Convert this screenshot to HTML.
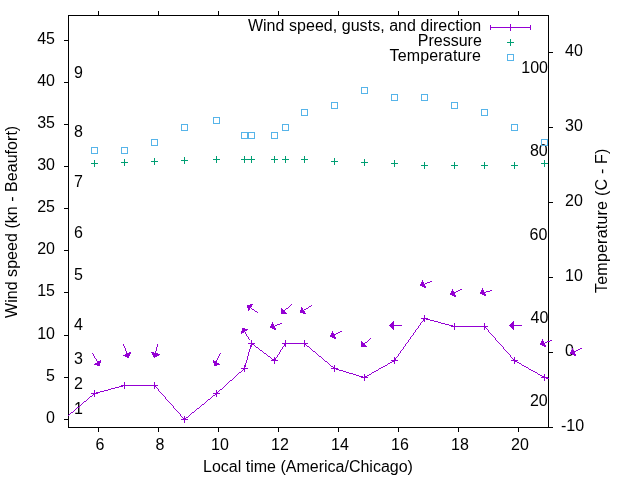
<!DOCTYPE html><html><head><meta charset="utf-8"><title>Wind speed, gusts, and direction</title>
<style>html,body{margin:0;padding:0;background:#fff;}svg{display:block;}text{font-family:"Liberation Sans",sans-serif;font-size:16px;fill:#000;}</style></head><body>
<svg width="640" height="480" viewBox="0 0 640 480">
<rect width="640" height="480" fill="#fff"/>
<g stroke="#000" stroke-width="1" fill="none" shape-rendering="crispEdges">
<rect x="68.5" y="15.5" width="480" height="412"/>
<line x1="64" y1="419.5" x2="68" y2="419.5"/>
<line x1="64" y1="377.5" x2="68" y2="377.5"/>
<line x1="64" y1="335.5" x2="68" y2="335.5"/>
<line x1="64" y1="292.5" x2="68" y2="292.5"/>
<line x1="64" y1="250.5" x2="68" y2="250.5"/>
<line x1="64" y1="208.5" x2="68" y2="208.5"/>
<line x1="64" y1="166.5" x2="68" y2="166.5"/>
<line x1="64" y1="124.5" x2="68" y2="124.5"/>
<line x1="64" y1="82.5" x2="68" y2="82.5"/>
<line x1="64" y1="40.5" x2="68" y2="40.5"/>
<line x1="549" y1="427.5" x2="553" y2="427.5"/>
<line x1="549" y1="352.5" x2="553" y2="352.5"/>
<line x1="549" y1="277.5" x2="553" y2="277.5"/>
<line x1="549" y1="202.5" x2="553" y2="202.5"/>
<line x1="549" y1="127.5" x2="553" y2="127.5"/>
<line x1="549" y1="52.5" x2="553" y2="52.5"/>
<line x1="98.5" y1="428" x2="98.5" y2="432"/>
<line x1="98.5" y1="11" x2="98.5" y2="15"/>
<line x1="158.5" y1="428" x2="158.5" y2="432"/>
<line x1="158.5" y1="11" x2="158.5" y2="15"/>
<line x1="218.5" y1="428" x2="218.5" y2="432"/>
<line x1="218.5" y1="11" x2="218.5" y2="15"/>
<line x1="278.5" y1="428" x2="278.5" y2="432"/>
<line x1="278.5" y1="11" x2="278.5" y2="15"/>
<line x1="338.5" y1="428" x2="338.5" y2="432"/>
<line x1="338.5" y1="11" x2="338.5" y2="15"/>
<line x1="398.5" y1="428" x2="398.5" y2="432"/>
<line x1="398.5" y1="11" x2="398.5" y2="15"/>
<line x1="458.5" y1="428" x2="458.5" y2="432"/>
<line x1="458.5" y1="11" x2="458.5" y2="15"/>
<line x1="518.5" y1="428" x2="518.5" y2="432"/>
<line x1="518.5" y1="11" x2="518.5" y2="15"/>
</g>
<text x="55" y="423" text-anchor="end">0</text>
<text x="55" y="381" text-anchor="end">5</text>
<text x="55" y="339" text-anchor="end">10</text>
<text x="55" y="296" text-anchor="end">15</text>
<text x="55" y="254" text-anchor="end">20</text>
<text x="55" y="212" text-anchor="end">25</text>
<text x="55" y="170" text-anchor="end">30</text>
<text x="55" y="128" text-anchor="end">35</text>
<text x="55" y="86" text-anchor="end">40</text>
<text x="55" y="44" text-anchor="end">45</text>
<text x="561" y="431" text-anchor="start">-10</text>
<text x="565" y="356" text-anchor="start">0</text>
<text x="565" y="281" text-anchor="start">10</text>
<text x="565" y="206" text-anchor="start">20</text>
<text x="565" y="131" text-anchor="start">30</text>
<text x="565" y="56" text-anchor="start">40</text>
<text x="100.0" y="450" text-anchor="middle">6</text>
<text x="160.0" y="450" text-anchor="middle">8</text>
<text x="220.0" y="450" text-anchor="middle">10</text>
<text x="280.0" y="450" text-anchor="middle">12</text>
<text x="340.0" y="450" text-anchor="middle">14</text>
<text x="400.0" y="450" text-anchor="middle">16</text>
<text x="460.0" y="450" text-anchor="middle">18</text>
<text x="520.0" y="450" text-anchor="middle">20</text>
<text x="74" y="414">1</text>
<text x="74" y="389">2</text>
<text x="74" y="364">3</text>
<text x="74" y="330">4</text>
<text x="74" y="280">5</text>
<text x="74" y="238">6</text>
<text x="74" y="187">7</text>
<text x="74" y="137">8</text>
<text x="74" y="78">9</text>
<text x="547.7" y="406" text-anchor="end">20</text>
<text x="548.4" y="323" text-anchor="end">40</text>
<text x="547.3" y="240" text-anchor="end">60</text>
<text x="547.7" y="156" text-anchor="end">80</text>
<text x="548" y="73" text-anchor="end">100</text>
<text x="308" y="472" text-anchor="middle">Local time (America/Chicago)</text>
<text transform="translate(17,318) rotate(-90)" style="letter-spacing:0.04px">Wind speed (kn - Beaufort)</text>
<text transform="translate(607,293) rotate(-90)" style="letter-spacing:0.22px">Temperature (C - F)</text>
<text x="481.3" y="31" text-anchor="end" style="letter-spacing:0.04px">Wind speed, gusts, and direction</text>
<text x="481.8" y="46" text-anchor="end">Pressure</text>
<text x="481.2" y="61" text-anchor="end" style="letter-spacing:0.17px">Temperature</text>
<g fill="none" stroke-width="1" shape-rendering="crispEdges">
<path d="M490 27.5H531M490.5 25V30M530.5 25V30" stroke="#9400D3"/>
<path d="M507 27.5H514M510.5 24V31" stroke="#9400D3"/>
<path d="M507 42.5H514M510.5 39V46" stroke="#009E73"/>
<rect x="507.5" y="54.5" width="6" height="6" stroke="#56B4E9"/>
<clipPath id="c"><rect x="68" y="15" width="481" height="413"/></clipPath>
<path d="M424 318.5h2M423 319.5h1M426 319.5h4M423 320.5h1M430 320.5h4M422 321.5h1M434 321.5h4M421 322.5h1M438 322.5h3M420 323.5h1M441 323.5h4M420 324.5h1M445 324.5h4M419 325.5h1M449 325.5h4M418 326.5h1M453 326.5h32M418 327.5h1M485 327.5h1M417 328.5h1M486 328.5h1M416 329.5h1M487 329.5h1M415 330.5h1M488 330.5h1M415 331.5h1M488 331.5h1M414 332.5h1M489 332.5h1M413 333.5h1M490 333.5h1M413 334.5h1M491 334.5h1M412 335.5h1M492 335.5h1M411 336.5h1M493 336.5h1M410 337.5h1M494 337.5h1M410 338.5h1M495 338.5h1M409 339.5h1M495 339.5h1M408 340.5h1M496 340.5h1M408 341.5h1M497 341.5h1M407 342.5h1M498 342.5h1M251 343.5h1M285 343.5h20M406 343.5h1M499 343.5h1M251 344.5h3M284 344.5h1M305 344.5h1M405 344.5h1M500 344.5h1M250 345.5h1M254 345.5h1M284 345.5h1M306 345.5h1M405 345.5h1M501 345.5h1M250 346.5h1M255 346.5h1M283 346.5h1M307 346.5h2M404 346.5h1M502 346.5h1M250 347.5h1M256 347.5h2M282 347.5h1M309 347.5h1M403 347.5h1M503 347.5h1M250 348.5h1M258 348.5h1M282 348.5h1M310 348.5h1M403 348.5h1M503 348.5h1M249 349.5h1M259 349.5h1M281 349.5h1M311 349.5h1M402 349.5h1M504 349.5h1M249 350.5h1M260 350.5h2M280 350.5h1M312 350.5h1M401 350.5h1M505 350.5h1M249 351.5h1M262 351.5h1M280 351.5h1M313 351.5h2M400 351.5h1M506 351.5h1M248 352.5h1M263 352.5h1M279 352.5h1M315 352.5h1M400 352.5h1M507 352.5h1M248 353.5h1M264 353.5h2M279 353.5h1M316 353.5h1M399 353.5h1M508 353.5h1M248 354.5h1M266 354.5h1M278 354.5h1M317 354.5h1M398 354.5h1M509 354.5h1M248 355.5h1M267 355.5h1M277 355.5h1M318 355.5h1M398 355.5h1M510 355.5h1M247 356.5h1M268 356.5h2M277 356.5h1M319 356.5h2M397 356.5h1M510 356.5h1M247 357.5h1M270 357.5h1M276 357.5h1M321 357.5h1M396 357.5h1M511 357.5h1M247 358.5h1M271 358.5h1M275 358.5h1M322 358.5h1M395 358.5h1M512 358.5h1M247 359.5h1M272 359.5h2M275 359.5h1M323 359.5h1M395 359.5h1M513 359.5h1M246 360.5h1M274 360.5h1M324 360.5h1M394 360.5h1M514 360.5h1M246 361.5h1M325 361.5h2M392 361.5h2M515 361.5h2M246 362.5h1M327 362.5h1M390 362.5h2M517 362.5h2M245 363.5h1M328 363.5h1M388 363.5h2M519 363.5h2M245 364.5h1M329 364.5h1M387 364.5h1M521 364.5h1M245 365.5h1M330 365.5h1M385 365.5h2M522 365.5h2M245 366.5h1M331 366.5h2M383 366.5h2M524 366.5h2M244 367.5h1M333 367.5h1M381 367.5h2M526 367.5h2M244 368.5h1M334 368.5h2M379 368.5h2M528 368.5h1M243 369.5h1M336 369.5h3M378 369.5h1M529 369.5h2M242 370.5h1M339 370.5h4M376 370.5h2M531 370.5h2M241 371.5h1M343 371.5h3M374 371.5h2M533 371.5h2M239 372.5h2M346 372.5h3M372 372.5h2M535 372.5h2M238 373.5h1M349 373.5h4M371 373.5h1M537 373.5h1M237 374.5h1M353 374.5h3M369 374.5h2M538 374.5h2M236 375.5h1M356 375.5h3M367 375.5h2M540 375.5h2M235 376.5h1M359 376.5h4M365 376.5h2M542 376.5h2M234 377.5h1M363 377.5h2M544 377.5h2M233 378.5h1M546 378.5h3M232 379.5h1M230 380.5h2M229 381.5h1M228 382.5h1M227 383.5h1M226 384.5h1M123 385.5h32M225 385.5h1M119 386.5h4M155 386.5h1M224 386.5h1M115 387.5h4M156 387.5h1M223 387.5h1M111 388.5h4M157 388.5h1M222 388.5h1M108 389.5h3M158 389.5h1M220 389.5h2M104 390.5h4M158 390.5h1M219 390.5h1M100 391.5h4M159 391.5h1M218 391.5h1M96 392.5h4M160 392.5h1M217 392.5h1M94 393.5h2M161 393.5h1M216 393.5h1M93 394.5h1M162 394.5h1M215 394.5h1M92 395.5h1M163 395.5h1M213 395.5h2M90 396.5h2M164 396.5h1M212 396.5h1M89 397.5h1M165 397.5h1M211 397.5h1M88 398.5h1M165 398.5h1M210 398.5h1M87 399.5h1M166 399.5h1M208 399.5h2M86 400.5h1M167 400.5h1M207 400.5h1M84 401.5h2M168 401.5h1M206 401.5h1M83 402.5h1M169 402.5h1M205 402.5h1M82 403.5h1M170 403.5h1M204 403.5h1M81 404.5h1M171 404.5h1M202 404.5h2M80 405.5h1M172 405.5h1M201 405.5h1M79 406.5h1M173 406.5h1M200 406.5h1M77 407.5h2M173 407.5h1M199 407.5h1M76 408.5h1M174 408.5h1M197 408.5h2M75 409.5h1M175 409.5h1M196 409.5h1M74 410.5h1M176 410.5h1M195 410.5h1M73 411.5h1M177 411.5h1M194 411.5h1M71 412.5h2M178 412.5h1M192 412.5h2M70 413.5h1M179 413.5h1M191 413.5h1M69 414.5h1M180 414.5h1M190 414.5h1M68 415.5h1M180 415.5h1M189 415.5h1M181 416.5h1M188 416.5h1M182 417.5h1M186 417.5h2M183 418.5h1M185 418.5h1M184 419.5h1" stroke="#9400D3" stroke-width="1" fill="none" shape-rendering="crispEdges"/>
<path d="M91 393.5H98M94.5 390V397" stroke="#9400D3"/>
<path d="M121 385.5H128M124.5 382V389" stroke="#9400D3"/>
<path d="M151 385.5H158M154.5 382V389" stroke="#9400D3"/>
<path d="M181 419.5H188M184.5 416V423" stroke="#9400D3"/>
<path d="M213 393.5H220M216.5 390V397" stroke="#9400D3"/>
<path d="M241 368.5H248M244.5 365V372" stroke="#9400D3"/>
<path d="M248 343.5H255M251.5 340V347" stroke="#9400D3"/>
<path d="M271 360.5H278M274.5 357V364" stroke="#9400D3"/>
<path d="M282 343.5H289M285.5 340V347" stroke="#9400D3"/>
<path d="M301 343.5H308M304.5 340V347" stroke="#9400D3"/>
<path d="M331 368.5H338M334.5 365V372" stroke="#9400D3"/>
<path d="M361 377.5H368M364.5 374V381" stroke="#9400D3"/>
<path d="M391 360.5H398M394.5 357V364" stroke="#9400D3"/>
<path d="M421 318.5H428M424.5 315V322" stroke="#9400D3"/>
<path d="M451 326.5H458M454.5 323V330" stroke="#9400D3"/>
<path d="M481 326.5H488M484.5 323V330" stroke="#9400D3"/>
<path d="M511 360.5H518M514.5 357V364" stroke="#9400D3"/>
<path d="M541 377.5H548M544.5 374V381" stroke="#9400D3"/>
<path d="M91 163.5H98M94.5 160V167" stroke="#009E73"/>
<path d="M121 162.5H128M124.5 159V166" stroke="#009E73"/>
<path d="M151 161.5H158M154.5 158V165" stroke="#009E73"/>
<path d="M181 160.5H188M184.5 157V164" stroke="#009E73"/>
<path d="M213 159.5H220M216.5 156V163" stroke="#009E73"/>
<path d="M241 159.5H248M244.5 156V163" stroke="#009E73"/>
<path d="M248 159.5H255M251.5 156V163" stroke="#009E73"/>
<path d="M271 159.5H278M274.5 156V163" stroke="#009E73"/>
<path d="M282 159.5H289M285.5 156V163" stroke="#009E73"/>
<path d="M301 159.5H308M304.5 156V163" stroke="#009E73"/>
<path d="M331 161.5H338M334.5 158V165" stroke="#009E73"/>
<path d="M361 162.5H368M364.5 159V166" stroke="#009E73"/>
<path d="M391 163.5H398M394.5 160V167" stroke="#009E73"/>
<path d="M421 165.5H428M424.5 162V169" stroke="#009E73"/>
<path d="M451 165.5H458M454.5 162V169" stroke="#009E73"/>
<path d="M481 165.5H488M484.5 162V169" stroke="#009E73"/>
<path d="M511 165.5H518M514.5 162V169" stroke="#009E73"/>
<path d="M541 163.5H548M544.5 160V167" stroke="#009E73"/>
<rect x="91.5" y="147.5" width="6" height="6" stroke="#56B4E9"/>
<rect x="121.5" y="147.5" width="6" height="6" stroke="#56B4E9"/>
<rect x="151.5" y="139.5" width="6" height="6" stroke="#56B4E9"/>
<rect x="181.5" y="124.5" width="6" height="6" stroke="#56B4E9"/>
<rect x="213.5" y="117.5" width="6" height="6" stroke="#56B4E9"/>
<rect x="241.5" y="132.5" width="6" height="6" stroke="#56B4E9"/>
<rect x="248.5" y="132.5" width="6" height="6" stroke="#56B4E9"/>
<rect x="271.5" y="132.5" width="6" height="6" stroke="#56B4E9"/>
<rect x="282.5" y="124.5" width="6" height="6" stroke="#56B4E9"/>
<rect x="301.5" y="109.5" width="6" height="6" stroke="#56B4E9"/>
<rect x="331.5" y="102.5" width="6" height="6" stroke="#56B4E9"/>
<rect x="361.5" y="87.5" width="6" height="6" stroke="#56B4E9"/>
<rect x="391.5" y="94.5" width="6" height="6" stroke="#56B4E9"/>
<rect x="421.5" y="94.5" width="6" height="6" stroke="#56B4E9"/>
<rect x="451.5" y="102.5" width="6" height="6" stroke="#56B4E9"/>
<rect x="481.5" y="109.5" width="6" height="6" stroke="#56B4E9"/>
<rect x="511.5" y="124.5" width="6" height="6" stroke="#56B4E9"/>
<rect x="541.5" y="139.5" width="6" height="6" stroke="#56B4E9"/>
</g>
<g stroke="#9400D3" fill="#9400D3" stroke-width="1" stroke-linejoin="round" stroke-linecap="square" shape-rendering="crispEdges">
<polygon points="99.5,365.5 100.5,360.5 94.5,364.5"/>
<polygon points="128.5,357.5 130.5,352.5 123.5,355.5"/>
<polygon points="154.5,357.5 159.5,354.5 151.5,352.5"/>
<polygon points="214.5,365.5 219.5,364.5 213.5,360.5"/>
<polygon points="242.5,328.5 241.5,333.5 247.5,329.5"/>
<polygon points="247.5,305.5 248.5,310.5 252.5,304.5"/>
<polygon points="270.5,327.5 275.5,329.5 272.5,322.5"/>
<polygon points="281.5,313.5 286.5,313.5 281.5,308.5"/>
<polygon points="300.5,312.5 305.5,313.5 301.5,307.5"/>
<polygon points="330.5,336.5 335.5,338.5 332.5,331.5"/>
<polygon points="361.5,346.5 366.5,346.5 361.5,341.5"/>
<polygon points="389.5,325.5 393.5,329.5 393.5,321.5"/>
<polygon points="420.5,285.5 425.5,287.5 422.5,280.5"/>
<polygon points="450.5,294.5 455.5,296.5 452.5,289.5"/>
<polygon points="480.5,293.5 485.5,295.5 482.5,288.5"/>
<polygon points="509.5,325.5 513.5,329.5 513.5,321.5"/>
<polygon points="540.5,344.5 545.5,346.5 542.5,339.5"/>
<polygon points="570.5,353.5 575.5,355.5 572.5,348.5"/>
</g>
<path d="M430 281.5h2M427 282.5h3M425 283.5h2M422 284.5h3M420 285.5h2M460 289.5h2M458 290.5h2M490 290.5h2M456 291.5h2M486 291.5h4M454 292.5h2M482 292.5h4M452 293.5h2M480 293.5h2M450 294.5h2M291 304.5h1M247 305.5h1M290 305.5h1M311 305.5h1M248 306.5h2M289 306.5h1M309 306.5h2M250 307.5h1M288 307.5h1M308 307.5h1M251 308.5h1M286 308.5h2M306 308.5h2M252 309.5h2M285 309.5h1M304 309.5h2M254 310.5h1M284 310.5h1M303 310.5h1M255 311.5h2M283 311.5h1M301 311.5h2M257 312.5h1M282 312.5h1M300 312.5h1M281 313.5h1M280 323.5h2M277 324.5h3M275 325.5h2M389 325.5h13M509 325.5h13M272 326.5h3M270 327.5h2M242 328.5h1M243 329.5h1M243 330.5h1M244 331.5h1M340 331.5h2M245 332.5h1M338 332.5h2M245 333.5h1M336 333.5h2M246 334.5h1M334 334.5h2M246 335.5h1M332 335.5h2M247 336.5h1M330 336.5h2M248 337.5h1M248 338.5h1M370 338.5h1M249 339.5h1M369 339.5h1M368 340.5h1M550 340.5h2M367 341.5h1M547 341.5h3M365 342.5h2M545 342.5h2M364 343.5h1M542 343.5h3M123 344.5h1M157 344.5h1M363 344.5h1M540 344.5h2M123 345.5h1M157 345.5h1M362 345.5h1M124 346.5h1M157 346.5h1M361 346.5h1M124 347.5h1M156 347.5h1M125 348.5h1M156 348.5h1M580 348.5h2M125 349.5h1M156 349.5h1M578 349.5h2M125 350.5h1M156 350.5h1M576 350.5h2M126 351.5h1M155 351.5h1M574 351.5h2M126 352.5h1M155 352.5h1M572 352.5h2M92 353.5h1M126 353.5h1M155 353.5h1M220 353.5h1M570 353.5h2M93 354.5h1M127 354.5h1M155 354.5h1M219 354.5h1M93 355.5h1M127 355.5h1M154 355.5h1M219 355.5h1M94 356.5h1M128 356.5h1M154 356.5h1M218 356.5h1M94 357.5h1M128 357.5h1M154 357.5h1M218 357.5h1M95 358.5h1M217 358.5h1M96 359.5h1M217 359.5h1M96 360.5h1M216 360.5h1M97 361.5h1M216 361.5h1M97 362.5h1M215 362.5h1M98 363.5h1M215 363.5h1M98 364.5h1M214 364.5h1M99 365.5h1M214 365.5h1" stroke="#9400D3" stroke-width="1" fill="none" shape-rendering="crispEdges"/>
</svg></body></html>
